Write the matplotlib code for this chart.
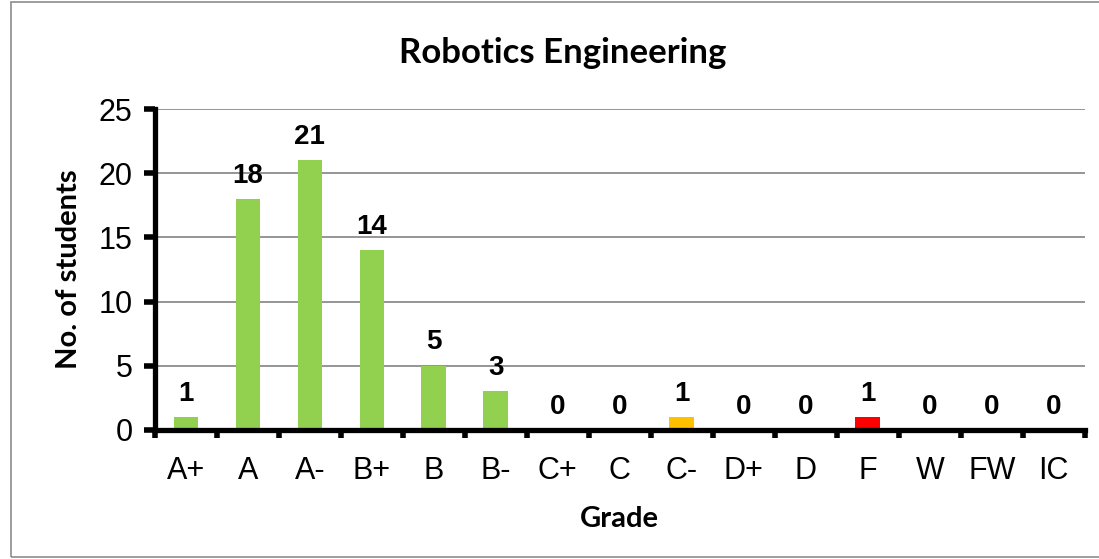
import matplotlib.pyplot as plt
from matplotlib.patches import Rectangle

grades = ["A+", "A", "A-", "B+", "B", "B-", "C+", "C", "C-", "D+", "D", "F", "W", "FW", "IC"]
students = [1, 18, 21, 14, 5, 3, 0, 0, 1, 0, 0, 1, 0, 0, 0]
bar_colors = ["#92D050"] * 6 + ["#92D050", "#92D050", "#FFC000", "#92D050", "#92D050",
                                "#FF0000", "#92D050", "#92D050", "#92D050"]
y_ticks = [0, 5, 10, 15, 20, 25]


def main():
    fig = plt.figure(figsize=(10.99, 5.59), dpi=100)
    ax = fig.add_axes([0.141, 0.231, 0.846, 0.574])

    x = list(range(len(grades)))
    ax.bar(x, students, width=0.4, color=bar_colors, zorder=3)

    for xi, v in zip(x, students):
        ax.text(xi, v + 0.8, str(v), ha="center", va="bottom",
                fontsize=20, fontweight="bold", family="Liberation Sans")

    ax.set_xlim(-0.5, len(grades) - 0.5)
    ax.set_ylim(0, 25)
    ax.set_yticks(y_ticks)
    ax.set_yticklabels([str(t) for t in y_ticks], family="Liberation Sans", fontsize=22)
    ax.yaxis.grid(True, color="#8c8c8c", linewidth=1.3, zorder=0)

    # ticks between categories, labels centered
    ax.set_xticks([i - 0.5 for i in range(len(grades) + 1)])
    ax.set_xticklabels([])
    ax.set_xticks(x, minor=True)
    ax.set_xticklabels(grades, minor=True, family="Liberation Sans", fontsize=22)
    ax.tick_params(axis="x", which="minor", length=0, pad=19)
    ax.tick_params(axis="x", which="major", length=6, width=4, direction="out")
    ax.tick_params(axis="y", length=8, width=4, direction="out", pad=8)

    for s in ["top", "right"]:
        ax.spines[s].set_visible(False)
    for s in ["left", "bottom"]:
        ax.spines[s].set_linewidth(3.8)
        ax.spines[s].set_zorder(4)

    ax.set_xlabel("Grade", family="Lato", fontweight="bold", fontsize=21, labelpad=14)
    ax.set_ylabel("No. of students", family="Lato", fontweight="bold", fontsize=21, labelpad=12)
    fig.text(0.512, 0.905, "Robotics Engineering", ha="center", va="center",
             family="Lato", fontweight="bold", fontsize=25)

    fig.patches.append(Rectangle((0.01, 0.003), 0.995, 0.993, transform=fig.transFigure,
                                 fill=False, edgecolor="#8c8c8c", linewidth=1.2))

    fig.savefig("out.png", dpi=100)


if __name__ == "__main__":
    main()
